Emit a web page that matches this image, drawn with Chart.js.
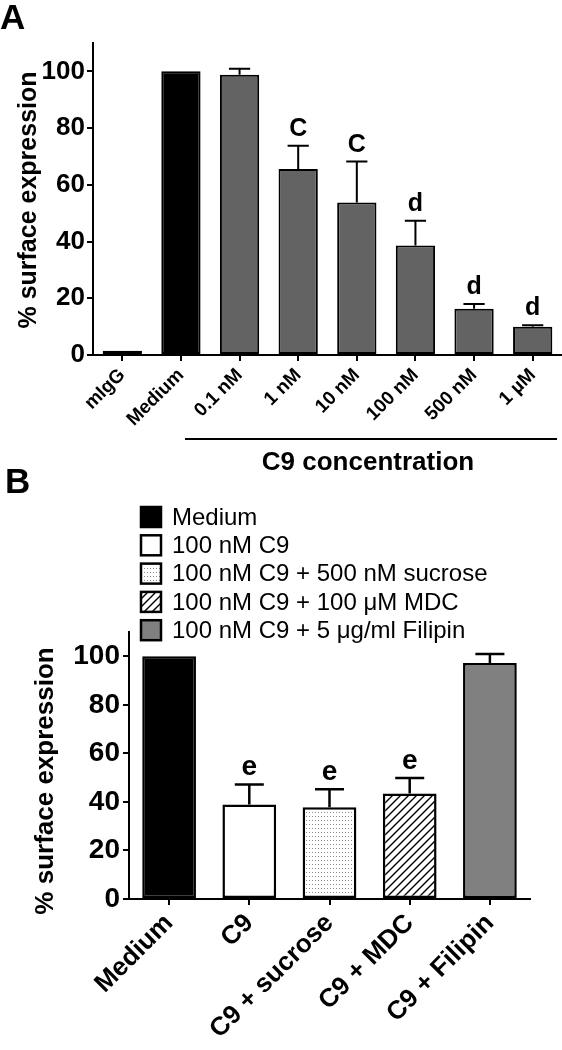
<!DOCTYPE html>
<html>
<head>
<meta charset="utf-8">
<script src="https://cdn.jsdelivr.net/npm/chart.js@4"></script>
<style>
  body { margin: 0; background: #fff; }
  #wrap { position: relative; width: 562px; height: 1050px; }
  canvas { position: absolute; left: 0; }
  #chartA { top: 0; }
  #chartB { top: 460px; }
</style>
</head>
<body>
<div id="wrap">
  <canvas id="chartA" width="562" height="478"></canvas>
  <canvas id="chartB" width="562" height="590"></canvas>
</div>
<script>
// panel A data
const labelsA = ["mIgG", "Medium", "0.1 nM", "1 nM", "10 nM", "100 nM", "500 nM", "1 µM"];
const valuesA = [1.5, 100, 98.8, 65.6, 53.8, 38.6, 16.3, 10.0];
const errorsA = [0, 0, 2.1, 8.2, 14.4, 8.7, 1.7, 0.5];
const lettersA = ["", "", "", "C", "C", "d", "d", "d"];

// panel B data
const labelsB = ["Medium", "C9", "C9 + sucrose", "C9 + MDC", "C9 + Filipin"];
const legendB = ["Medium", "100 nM C9", "100 nM C9 + 500 nM sucrose", "100 nM C9 + 100 μM MDC", "100 nM C9 + 5 μg/ml Filipin"];
const valuesB = [100, 38.9, 37.8, 43.5, 97.2];
const errorsB = [0, 8.3, 7.4, 6.4, 3.7];
const lettersB = ["", "e", "e", "e", ""];

const yTicks = [0, 20, 40, 60, 80, 100];

const FONT = "'Liberation Sans', Arial, Helvetica, sans-serif";

function makeDots() {
  const c = document.createElement("canvas");
  c.width = 3; c.height = 4;
  const x = c.getContext("2d");
  x.fillStyle = "#fff";
  x.fillRect(0, 0, 3, 4);
  x.fillStyle = "#8a8a8a";
  x.fillRect(0, 0, 1, 1);
  return x.createPattern(c, "repeat");
}

function makeHatch() {
  const c = document.createElement("canvas");
  c.width = 8; c.height = 8;
  const x = c.getContext("2d");
  x.fillStyle = "#fff";
  x.fillRect(0, 0, 8, 8);
  x.strokeStyle = "#000";
  x.lineWidth = 1.4;
  x.beginPath();
  x.moveTo(0, 8); x.lineTo(8, 0);
  x.moveTo(-1, 1); x.lineTo(1, -1);
  x.moveTo(7, 9); x.lineTo(9, 7);
  x.stroke();
  return x.createPattern(c, "repeat");
}

const colorsA = ["#e6e6e6", "#000000", "#636363", "#636363", "#636363", "#636363", "#636363", "#636363"];
const colorsB = ["#000000", "#ffffff", makeDots(), makeHatch(), "#808080"];

// error bars, letters, titles, legend
const extras = {
  id: "extras",
  afterDatasetsDraw(chart, args, opts) {
    const ctx = chart.ctx;
    const y = chart.scales.y;
    const bars = chart.getDatasetMeta(0).data;
    ctx.save();
    ctx.strokeStyle = "#000";
    ctx.lineWidth = opts.errWidth;
    bars.forEach((bar, i) => {
      if (!opts.errors[i]) return;
      const top = y.getPixelForValue(opts.values[i] + opts.errors[i]);
      const half = bar.width * 0.27;
      ctx.beginPath();
      ctx.moveTo(bar.x, bar.y);
      ctx.lineTo(bar.x, top);
      ctx.moveTo(bar.x - half, top);
      ctx.lineTo(bar.x + half, top);
      ctx.stroke();
    });
    ctx.fillStyle = "#000";
    ctx.font = "bold " + opts.letterSize + "px " + FONT;
    ctx.textAlign = "center";
    ctx.textBaseline = "alphabetic";
    bars.forEach((bar, i) => {
      if (!opts.letters[i]) return;
      const top = y.getPixelForValue(opts.values[i] + opts.errors[i]);
      ctx.fillText(opts.letters[i], bar.x, top - opts.letterGap);
    });
    ctx.restore();
  },
  afterDraw(chart, args, opts) {
    const ctx = chart.ctx;
    ctx.save();
    ctx.fillStyle = "#000";
    // panel letter
    ctx.font = "bold 35px " + FONT;
    ctx.textAlign = "left";
    ctx.textBaseline = "alphabetic";
    ctx.fillText(opts.panel, opts.panelX, opts.panelY);
    // y title
    ctx.save();
    ctx.translate(opts.titleX, opts.titleY);
    ctx.rotate(-Math.PI / 2);
    ctx.font = "bold " + opts.titleSize + "px " + FONT;
    ctx.textAlign = "center";
    ctx.textBaseline = "middle";
    ctx.fillText("% surface expression", 0, 0);
    ctx.restore();
    if (opts.group) {
      ctx.lineWidth = 2;
      ctx.beginPath();
      ctx.moveTo(185, 439);
      ctx.lineTo(557, 439);
      ctx.stroke();
      ctx.font = "bold 26px " + FONT;
      ctx.textAlign = "center";
      ctx.fillText("C9 concentration", 368, 470);
    }
    if (opts.legend) {
      ctx.font = "24px " + FONT;
      ctx.textAlign = "left";
      ctx.textBaseline = "middle";
      ctx.lineWidth = 2.5;
      opts.legend.forEach((txt, i) => {
        const cy = 57 + i * 28.3;
        ctx.fillStyle = colorsB[i];
        ctx.fillRect(141, cy - 10, 20, 20);
        ctx.strokeStyle = "#000";
        ctx.strokeRect(141, cy - 10, 20, 20);
        ctx.fillStyle = "#000";
        ctx.fillText(txt, 172, cy + 1);
      });
    }
    ctx.restore();
  }
};

function yScale(width, fontSize, pad) {
  return {
    min: 0,
    max: 110,
    afterBuildTicks: s => { s.ticks = yTicks.map(v => ({ value: v })); },
    afterFit: s => { s.width = width; },
    grid: { drawOnChartArea: false, drawTicks: true, tickLength: 6, color: "#000", lineWidth: 2 },
    border: { display: true, color: "#000", width: 2 },
    ticks: { color: "#000", padding: pad, font: { family: FONT, size: fontSize, weight: "bold" } }
  };
}

function xScale(height, fontSize) {
  return {
    offset: true,
    afterFit: s => { s.height = height; },
    grid: { offset: false, drawOnChartArea: false, drawTicks: true, tickLength: 6, color: "#000", lineWidth: 2 },
    border: { display: true, color: "#000", width: 2 },
    ticks: {
      color: "#000", autoSkip: false, maxRotation: 45, minRotation: 45, padding: 3,
      font: { family: FONT, size: fontSize, weight: "bold" }
    }
  };
}

new Chart(document.getElementById("chartA"), {
  type: "bar",
  data: {
    labels: labelsA,
    datasets: [{
      data: valuesA,
      backgroundColor: colorsA,
      borderColor: "#000",
      borderWidth: 2,
      borderSkipped: false,
      categoryPercentage: 1,
      barPercentage: 0.67
    }]
  },
  options: {
    responsive: false,
    animation: false,
    layout: { padding: { top: 43, left: 0, right: 0, bottom: 0 } },
    scales: { x: xScale(123, 19), y: yScale(93, 26, 2) },
    plugins: {
      legend: { display: false },
      tooltip: { enabled: false },
      extras: {
        values: valuesA, errors: errorsA, letters: lettersA,
        errWidth: 2, letterSize: 25, letterGap: 10,
        panel: "A", panelX: 0, panelY: 29,
        titleX: 29, titleY: 200, titleSize: 25,
        group: true
      }
    }
  },
  plugins: [extras]
});

new Chart(document.getElementById("chartB"), {
  type: "bar",
  data: {
    labels: labelsB,
    datasets: [{
      data: valuesB,
      backgroundColor: colorsB,
      borderColor: "#000",
      borderWidth: 2.5,
      borderSkipped: false,
      categoryPercentage: 1,
      barPercentage: 0.67
    }]
  },
  options: {
    responsive: false,
    animation: false,
    layout: { padding: { top: 172, left: 0, right: 32, bottom: 0 } },
    scales: { x: xScale(151, 26), y: yScale(129, 28, 3) },
    plugins: {
      legend: { display: false },
      tooltip: { enabled: false },
      extras: {
        values: valuesB, errors: errorsB, letters: lettersB,
        errWidth: 2.5, letterSize: 28, letterGap: 9,
        panel: "B", panelX: 5, panelY: 33,
        titleX: 46, titleY: 321, titleSize: 26,
        legend: legendB
      }
    }
  },
  plugins: [extras]
});
</script>
</body>
</html>
